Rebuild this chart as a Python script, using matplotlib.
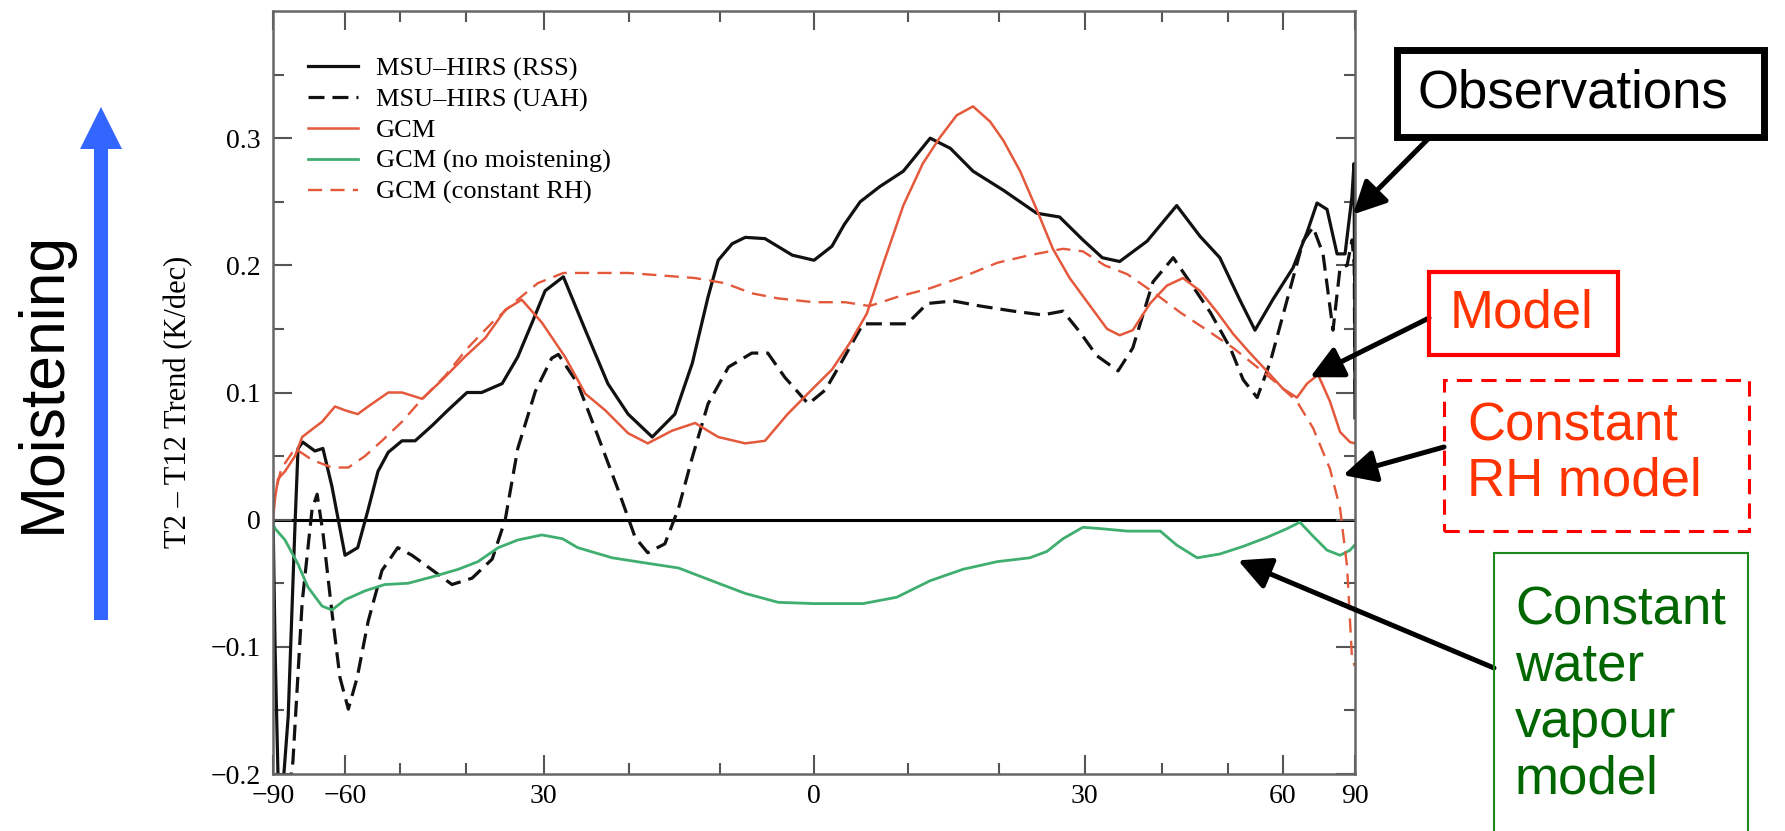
import numpy as np
import matplotlib
matplotlib.use('Agg')
import matplotlib.pyplot as plt
from matplotlib.patches import Rectangle, FancyArrow
from matplotlib.transforms import IdentityTransform

W, H = 1785, 831

# latitude (deg) / trend (K/dec)
rss_lat = [-89, -85, -82, -79, -76.4, -73.6, -72.5, -70.9, -67.3, -65.2, -63.0, -60.1, -57.5, -55.5,
           -53.7, -51.9, -49.6, -47.5, -44.9, -42.6, -39.9, -37.9, -35.2, -33.2, -31.4, -29.8, -27.6,
           -25.0, -22.4, -20.1, -17.4, -14.9, -13.0, -11.3, -10.2, -8.7, -7.3, -5.2, -2.3, 0, 1.9, 3.2,
           4.9, 7.0, 9.5, 12.4, 14.6, 17.1, 20.5, 24.3, 27.0, 29.8, 32.2, 34.4, 38.0, 42.1, 45.5, 48.6,
           51.9, 54.6, 58.0, 62.3, 65.7, 68.4, 71.5, 75.2, 79, 83.9, 86.5, 88.5, 89.5]
rss_val = [0.0, -0.1, -0.21, -0.21, -0.155, -0.004, 0.056, 0.061, 0.054, 0.056, 0.026, -0.028, -0.022,
           0.008, 0.038, 0.053, 0.062, 0.062, 0.074, 0.086, 0.1, 0.1, 0.107, 0.128, 0.155, 0.18, 0.191,
           0.149, 0.107, 0.083, 0.065, 0.083, 0.123, 0.175, 0.204, 0.217, 0.222, 0.221, 0.208, 0.204,
           0.215, 0.232, 0.25, 0.262, 0.274, 0.3, 0.292, 0.274, 0.259, 0.241, 0.238, 0.22, 0.206, 0.203,
           0.219, 0.247, 0.223, 0.206, 0.173, 0.149, 0.173, 0.198, 0.226, 0.249, 0.244, 0.209, 0.209,
           0.254, 0.28, 0.16, 0.08]

uah_lat = [-77, -74.4, -71.1, -68.1, -66.7, -65.2, -63.0, -61.2, -59.4, -57.6, -55.5, -53.0, -50.3,
           -48.0, -44.0, -42.0, -39.2, -36.5, -34.8, -33.2, -31.0, -29.0, -28.2, -25.9, -23.5, -21.2,
           -19.3, -17.9, -16.0, -14.5, -13.0, -11.3, -9.1, -6.6, -4.9, -3.1, -0.6, 1.2, 3.0, 5.2, 7.8,
           9.9, 12.1, 14.9, 17.9, 21.6, 25.0, 27.4, 29.5, 31.5, 34.2, 36.1, 38.8, 41.6, 44.0, 47.1, 50.3,
           52.5, 55.0, 57.5, 61.0, 64.7, 67.3, 70.2, 73.6, 76.5, 80.2, 84, 87, 89]
uah_val = [-0.23, -0.19, -0.065, 0.008, 0.02, -0.01, -0.073, -0.124, -0.149, -0.124, -0.08, -0.04,
           -0.022, -0.028, -0.043, -0.051, -0.046, -0.031, 0.0, 0.056, 0.101, 0.127, 0.13, 0.107, 0.065,
           0.023, -0.014, -0.026, -0.019, 0.009, 0.049, 0.091, 0.12, 0.131, 0.131, 0.112, 0.091, 0.102,
           0.125, 0.154, 0.154, 0.154, 0.17, 0.172, 0.168, 0.164, 0.161, 0.164, 0.147, 0.129, 0.117,
           0.135, 0.187, 0.206, 0.187, 0.163, 0.135, 0.11, 0.096, 0.124, 0.173, 0.219, 0.23, 0.209,
           0.149, 0.198, 0.2, 0.22, 0.2, 0.1]

gcm_lat = [-89.5, -85, -82.2, -77.9, -73.6, -71.1, -68.1, -65.4, -62.3, -60.1, -57.5, -55.5, -51.9,
           -49.6, -46.4, -43.4, -40.2, -37.4, -34.8, -32.7, -30.2, -27.4, -25.0, -22.7, -20.1, -17.9,
           -15.2, -12.7, -10.2, -7.3, -5.2, -2.8, 0, 1.9, 3.8, 5.6, 7.3, 9.5, 11.6, 13.5, 15.3, 17.1,
           19.0, 20.5, 22.4, 24.3, 26.2, 28.2, 30.7, 32.8, 34.4, 36.1, 38.4, 40.7, 43.0, 45.5, 48.2,
           50.8, 53.7, 56.8, 60.1, 63.2, 65.7, 68.7, 72.5, 76.5, 82.2, 89]
gcm_val = [0.0, 0.017, 0.032, 0.038, 0.05, 0.065, 0.071, 0.077, 0.089, 0.086, 0.083, 0.089, 0.1, 0.1,
           0.095, 0.11, 0.128, 0.143, 0.165, 0.173, 0.155, 0.128, 0.099, 0.086, 0.068, 0.06, 0.07, 0.076,
           0.065, 0.06, 0.062, 0.083, 0.104, 0.118, 0.139, 0.162, 0.2, 0.247, 0.28, 0.301, 0.318, 0.325,
           0.313, 0.298, 0.274, 0.244, 0.213, 0.19, 0.168, 0.15, 0.145, 0.149, 0.17, 0.184, 0.19, 0.18,
           0.163, 0.146, 0.131, 0.117, 0.103, 0.096, 0.107, 0.114, 0.093, 0.069, 0.061, 0.06]

dry_lat = [-89.5, -85, -77.9, -72.5, -69.3, -65.4, -63.0, -60.1, -56.1, -52.5, -48.6, -44.9, -41.1,
           -38.4, -35.7, -33.2, -30.2, -27.7, -25.9, -21.9, -18.2, -14.5, -10.9, -7.3, -3.8, 0, 3.3, 5.2,
           8.8, 12.4, 16.0, 19.8, 23.5, 25.5, 27.4, 29.8, 31.9, 35.4, 39.8, 42.1, 45.1, 48.6, 52.5, 56.8,
           61.0, 63.9, 67.3, 71.5, 76.5, 82.2, 88]
dry_val = [-0.003, -0.007, -0.016, -0.035, -0.053, -0.068, -0.071, -0.063, -0.056, -0.051, -0.05,
           -0.045, -0.039, -0.033, -0.022, -0.016, -0.012, -0.015, -0.022, -0.03, -0.034, -0.038, -0.048,
           -0.058, -0.065, -0.066, -0.066, -0.066, -0.061, -0.048, -0.039, -0.033, -0.03, -0.025, -0.015,
           -0.006, -0.007, -0.009, -0.009, -0.02, -0.03, -0.027, -0.021, -0.014, -0.007, -0.002, -0.013,
           -0.024, -0.028, -0.024, -0.02]

crh_lat = [-89.5, -85, -80, -73.6, -68.1, -63.0, -59.4, -56.1, -53.0, -49.6, -46.4, -43.0, -39.8,
           -36.5, -33.6, -30.7, -27.6, -23.9, -20.1, -16.3, -12.7, -9.5, -6.6, -3.8, 0, 3.3, 5.9, 8.8,
           12.4, 16.0, 19.8, 23.5, 27.4, 29.8, 32.5, 35.4, 38.8, 42.6, 46.6, 50.8, 55.0, 58.9, 63.2,
           67.3, 72.5, 76.5, 80.2, 83.9, 88]
crh_val = [0.01, 0.02, 0.04, 0.056, 0.047, 0.041, 0.041, 0.05, 0.062, 0.077, 0.095, 0.113, 0.135, 0.155,
           0.171, 0.186, 0.194, 0.194, 0.194, 0.192, 0.19, 0.186, 0.178, 0.174, 0.171, 0.171, 0.168, 0.175,
           0.182, 0.191, 0.202, 0.208, 0.213, 0.211, 0.2, 0.193, 0.179, 0.163, 0.149, 0.135, 0.12, 0.107,
           0.093, 0.072, 0.04, 0.009, -0.037, -0.108, -0.115]

series_labels = ['MSU\u2013HIRS (RSS)', 'MSU\u2013HIRS (UAH)', 'GCM', 'GCM (no moistening)',
                 'GCM (constant RH)']

xticks = [-90, -60, -30, 0, 30, 60, 90]
xticklabels = ['\u221290', '\u221260', '30', '0', '30', '60', '90']
xminor = [-50, -40, -20, -10, 10, 20, 40, 50]
yticks = [-0.2, -0.1, 0, 0.1, 0.2, 0.3]
yticklabels = ['\u22120.2', '\u22120.1', '0', '0.1', '0.2', '0.3']

red_line = '#e4583b'
green_line = '#3fae6f'

plt.rcParams['font.family'] = ['Liberation Serif', 'DejaVu Serif']

fig = plt.figure(figsize=(W / 100, H / 100), dpi=100)
ax = fig.add_axes([273 / W, 1 - 774 / H, (1355 - 273) / W, (774 - 11) / H])


def fwd(x):
    return np.sin(np.radians(np.clip(x, -90, 90)))


def inv(y):
    return np.degrees(np.arcsin(np.clip(y, -1, 1)))


ax.set_xscale('function', functions=(fwd, inv))

ax.axhline(0, color='black', lw=2.2, zorder=1)
ax.plot(rss_lat, rss_val, color='#111111', lw=2.3, label=series_labels[0])
ax.plot(uah_lat, uah_val, color='#111111', lw=2.3, dashes=(5, 2.5), label=series_labels[1])
ax.plot(gcm_lat, gcm_val, color=red_line, lw=1.8, label=series_labels[2])
ax.plot(dry_lat, dry_val, color=green_line, lw=2.0, label=series_labels[3])
ax.plot(crh_lat, crh_val, color=red_line, lw=1.7, dashes=(6, 3.5), label=series_labels[4])

ax.set_xlim(-90, 90)
ax.set_ylim(-0.2, 0.4)
ax.set_xticks(xticks)
ax.set_xticklabels(xticklabels)
ax.set_xticks(xminor, minor=True)
ax.set_yticks(yticks)
ax.set_yticklabels(yticklabels)
ax.set_yticks(np.arange(-0.15, 0.4, 0.1), minor=True)

ax.tick_params(which='both', direction='in', top=True, right=True, color='#555555', width=1.5)
ax.tick_params(which='major', length=14, pad=9, labelsize=20)
ax.tick_params(axis='x', which='major', pad=7)
ax.tick_params(which='minor', length=8)
for s in ax.spines.values():
    s.set_color('#666666')
    s.set_linewidth(1.8)

ax.set_ylabel('T2 \u2013 T12 Trend (K/dec)', fontsize=22)
ax.yaxis.set_label_coords(-0.074, 0.4875)

ax.legend(loc='upper left', bbox_to_anchor=(0.032, 0.94), frameon=False, fontsize=19,
          handlelength=1.9, handletextpad=0.7, labelspacing=0.27, borderpad=0, borderaxespad=0)

# left: moistening arrow
fig.add_artist(FancyArrow(101, H - 620, 0, 620 - 107, width=14, head_width=42, head_length=42,
                          length_includes_head=True, color='#3366ff', lw=0,
                          transform=IdentityTransform()))
fig.text(43 / W, 1 - 382 / H, 'Moistening', rotation=90, ha='center', va='center',
         fontsize=45, family='Liberation Sans')


# right: labelled boxes with arrows
def box(x0, y0, x1, y1, **kw):
    fig.add_artist(Rectangle((x0, H - y1), x1 - x0, y1 - y0, fill=False,
                             transform=IdentityTransform(), **kw))


box(1397, 50, 1764, 137, ec='black', lw=5)
fig.text(1418 / W, 1 - 93 / H, 'Observations', ha='left', va='center', fontsize=38,
         family='Liberation Sans', color='black')

box(1429, 272, 1618, 355, ec='#ff0000', lw=3)
fig.text(1450 / W, 1 - 313 / H, 'Model', ha='left', va='center', fontsize=38,
         family='Liberation Sans', color='#ff3300')

box(1444, 380, 1749, 531, ec='#ff0000', lw=2.2, ls=(0, (5, 3)))
fig.text(1467 / W, 1 - 454 / H, 'Constant\nRH model', ha='left', va='center', fontsize=38,
         family='Liberation Sans', color='#ff3300', linespacing=1.12)

box(1494, 553, 1748, 845, ec='#1a8a1a', lw=1.5)
fig.text(1515 / W, 1 - 695 / H, 'Constant\nwater\nvapour\nmodel', ha='left', va='center',
         fontsize=38, family='Liberation Sans', color='#006600', linespacing=1.17)

arrow_kw = dict(arrowstyle='-|>,head_length=0.9,head_width=0.45', color='black', lw=3.6,
                shrinkA=0, shrinkB=0, mutation_scale=22)
for head, tail in [((85, 0.24), (1428, 139)),
                   ((66.5, 0.112), (1429, 318)),
                   ((78, 0.035), (1444, 447)),
                   ((51.6, -0.032), (1494, 668))]:
    ax.annotate('', xy=head, xycoords='data', xytext=(tail[0], H - tail[1]),
                textcoords='figure pixels', arrowprops=arrow_kw, annotation_clip=False)

fig.savefig('out.png', dpi=100)
